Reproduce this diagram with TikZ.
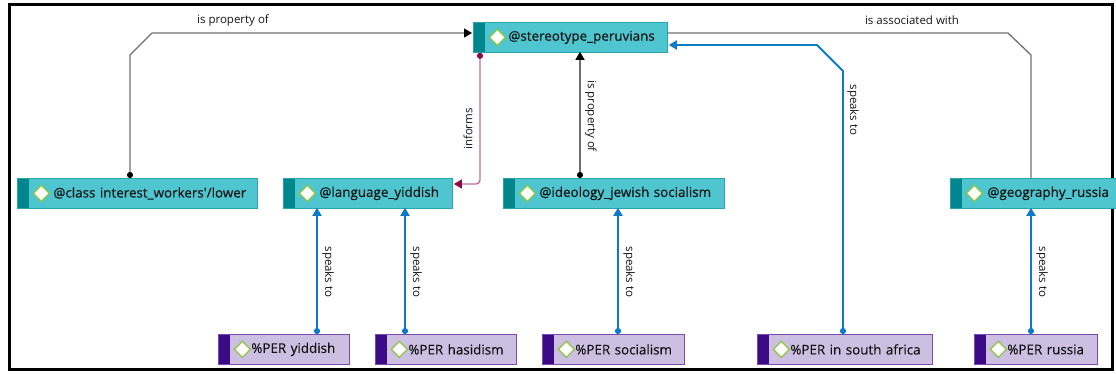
\documentclass[tikz,border=0pt]{standalone}
\usepackage{fontspec}
\usetikzlibrary{arrows.meta}
\newfontfamily\uifont{Open Sans}
\newfontfamily\boxfont{Open Sans}[FakeBold=0.35]

\definecolor{tealfill}{HTML}{4FC6CF}
\definecolor{tealedge}{HTML}{2AA5AE}
\definecolor{tealstripe}{HTML}{00878E}
\definecolor{lilac}{HTML}{CDBFE1}
\definecolor{lilacedge}{HTML}{7B4AAE}
\definecolor{indigo}{HTML}{3B0A85}
\definecolor{linkblue}{HTML}{0A7BC4}
\definecolor{linkgray}{HTML}{707070}
\definecolor{rose}{HTML}{BE6E9C}
\definecolor{wine}{HTML}{8A0C4C}
\definecolor{leaf}{HTML}{8CC63F}
\definecolor{ink}{HTML}{141414}

\tikzset{
  entity/.style={anchor=north west, line width=0.8pt, minimum height=30pt,
    inner xsep=0pt, inner ysep=0pt, align=left, text=ink,
    font=\boxfont\fontsize{13.4}{15}\selectfont},
  codebox/.style={entity, fill=tealfill, draw=tealedge,
    path picture={
      \fill[tealstripe] (path picture bounding box.north west) rectangle
        ([xshift=12pt]path picture bounding box.south west);
      \draw[leaf, fill=white, line width=1.3pt]
        ([xshift=24pt]path picture bounding box.west) ++(0,8pt) -- ++(8pt,-8pt)
        -- ++(-8pt,-8pt) -- ++(-8pt,8pt) -- cycle;}},
  quotebox/.style={entity, fill=lilac, draw=lilacedge,
    path picture={
      \fill[indigo] (path picture bounding box.north west) rectangle
        ([xshift=12pt]path picture bounding box.south west);
      \draw[leaf, fill=white, line width=1.3pt]
        ([xshift=24pt]path picture bounding box.west) ++(0,8pt) -- ++(8pt,-8pt)
        -- ++(-8pt,-8pt) -- ++(-8pt,8pt) -- cycle;}},
  lab/.style={font=\uifont\fontsize{11.5}{13}\selectfont, text=ink, inner sep=0pt},
  relink/.style={draw=linkgray, line width=1.3pt},
  relarrow/.style={relink, {Circle[black,length=6pt]}-{Triangle[black,length=8pt,width=9pt]}},
  speaklink/.style={draw=linkblue, line width=1.8pt,
    {Circle[linkblue,length=6pt]}-{Triangle[linkblue,length=8pt,width=9pt]}},
  informlink/.style={draw=rose, line width=1.4pt, rounded corners=4pt,
    {Circle[wine,length=6pt]}-{Triangle[wine,length=8pt,width=9pt]}},
}

\begin{document}
\begin{tikzpicture}[x=1pt, y=-1pt]
\useasboundingbox (0,0) rectangle (1116,373);

% frame (the right-hand code box runs over it)
\draw[line width=3pt] (9,4) rectangle (1112,369);

% codes
\node[codebox, text width=194pt] (stereo) at (473,22) {\hspace*{35pt}@stereotype\_peruvians};
\node[codebox, text width=240pt] (cls) at (17,178) {\hspace*{36pt}@class interest\_workers'/lower};
\node[codebox, text width=169pt] (lang) at (283,178) {\hspace*{36pt}@language\_yiddish};
\node[codebox, text width=221pt] (ideo) at (503,178) {\hspace*{36pt}@ideology\_jewish socialism};
\node[codebox, text width=172pt] (geo) at (950,178) {\hspace*{37pt}@geography\_russia};

% quotations
\node[quotebox, text width=131pt] (py) at (218,334) {\hspace*{33pt}\%PER yiddish};
\node[quotebox, text width=141pt] (ph) at (375,334) {\hspace*{33pt}\%PER hasidism};
\node[quotebox, text width=142pt] (ps) at (542,334) {\hspace*{33pt}\%PER socialism};
\node[quotebox, text width=175pt] (psa) at (757,334) {\hspace*{33pt}\%PER in south africa};
\node[quotebox, text width=123pt] (pru) at (974,334) {\hspace*{33pt}\%PER russia};

% bend points of the routed links
\coordinate (a1) at (130,55);  \coordinate (a2) at (152,33);
\coordinate (b1) at (1008,33); \coordinate (b2) at (1031,55);
\coordinate (c1) at (843,71);  \coordinate (c2) at (817,45);
\coordinate (d1) at (480,184);
\coordinate (e1) at (580,0);
\coordinate (s1) at (317,0);   \coordinate (s2) at (405,0);
\coordinate (s3) at (618,0);   \coordinate (s4) at (1031,0);

% links
\draw[relarrow] (a1 |- cls.north) -- (a1) -- (a2) -- ([xshift=-1pt]a2 -| stereo.west);
\draw[relink] (b1 -| stereo.east) -- (b1) -- (b2) -- (b2 |- geo.north);
\draw[relarrow] (e1 |- ideo.north) -- ([yshift=1pt]e1 |- stereo.south);
\draw[informlink] (d1 |- stereo.south) -- (d1) -- ([xshift=1pt]d1 -| lang.east);
\draw[speaklink] (c1 |- psa.north) -- (c1) -- (c2) -- ([xshift=1pt]c2 -| stereo.east);
\draw[speaklink] (s1 |- py.north) -- ([yshift=1pt]s1 |- lang.south);
\draw[speaklink] (s2 |- ph.north) -- ([yshift=1pt]s2 |- lang.south);
\draw[speaklink] (s3 |- ps.north) -- ([yshift=1pt]s3 |- ideo.south);
\draw[speaklink] (s4 |- pru.north) -- ([yshift=1pt]s4 |- geo.south);

% link labels
\node[lab] (t1) at (233,20) {is property of};
\node[lab] (t2) at (912,20) {is associated with};
\node[lab, rotate=90] (t3) at (468,129) {informs};
\node[lab, rotate=-90] (t4) at (591,116) {is property of};
\node[lab, rotate=-90] (t5) at (853,110) {speaks to};
\node[lab, rotate=-90] (t6) at (328,272) {speaks to};
\node[lab, rotate=-90] (t7) at (416,272) {speaks to};
\node[lab, rotate=-90] (t8) at (629,272) {speaks to};
\node[lab, rotate=-90] (t9) at (1042,272) {speaks to};
\end{tikzpicture}
\end{document}
